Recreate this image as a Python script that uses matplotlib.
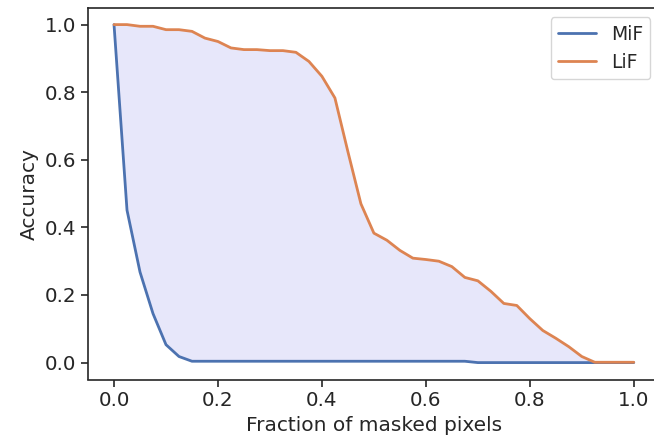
import matplotlib
matplotlib.use("Agg")
import matplotlib.pyplot as plt
import seaborn as sns
import numpy as np

sns.set_theme(style="ticks")
plt.rcParams['font.family'] = ['DejaVu Sans']

fractions = np.round(np.arange(0, 1.0001, 0.025), 3)

mif = [1.0, 0.451, 0.268, 0.145, 0.053, 0.018, 0.004, 0.004, 0.004, 0.004,
       0.004, 0.004, 0.004, 0.004, 0.004, 0.004, 0.004, 0.004, 0.004, 0.004,
       0.004, 0.004, 0.004, 0.004, 0.004, 0.004, 0.004, 0.004, 0.0, 0.0,
       0.0, 0.0, 0.0, 0.0, 0.0, 0.0, 0.0, 0.0, 0.0, 0.0, 0.0]

lif = [1.0, 1.0, 0.995, 0.995, 0.985, 0.985, 0.980, 0.960, 0.950, 0.931,
       0.926, 0.926, 0.923, 0.923, 0.918, 0.891, 0.847, 0.783, 0.624, 0.470,
       0.383, 0.362, 0.332, 0.309, 0.305, 0.300, 0.284, 0.252, 0.242, 0.211,
       0.175, 0.169, 0.130, 0.095, 0.072, 0.047, 0.018, 0.001, 0.001, 0.001, 0.001]

fig = plt.figure(figsize=(6.54, 4.4), dpi=100)
ax = fig.add_axes([0.1346, 0.1375, 0.8742, 0.845])

ax.fill_between(fractions, mif, lif, color='lavender', alpha=0.95, linewidth=0)
ax.plot(fractions, mif, color='#4c72b0', linewidth=2, label='MiF')
ax.plot(fractions, lif, color='#dd8452', linewidth=2, label='LiF')

ax.set_xlim(-0.05, 1.05)
ax.set_ylim(-0.05, 1.05)
ax.set_xticks([0.0, 0.2, 0.4, 0.6, 0.8, 1.0])
ax.set_yticks([0.0, 0.2, 0.4, 0.6, 0.8, 1.0])
ax.tick_params(labelsize=14.3, length=5, width=1.2)
ax.set_xlabel('Fraction of masked pixels', fontsize=14.5)
ax.set_ylabel('Accuracy', fontsize=14.5)
for s in ax.spines.values():
    s.set_linewidth(1.2)

ax.legend(loc='upper right', fontsize=13.5)

fig.savefig('out.png', dpi=100)
